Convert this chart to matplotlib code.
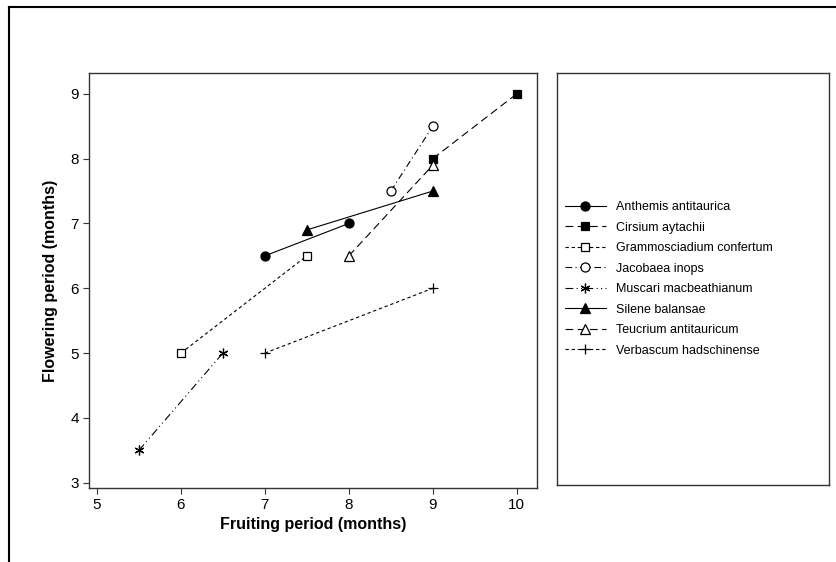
import matplotlib.pyplot as plt
from matplotlib.lines import Line2D

plt.rcParams['font.family'] = ['Liberation Sans', 'DejaVu Sans']

# Fruiting period (x) and flowering period (y), months
species = ['Anthemis antitaurica', 'Cirsium aytachii', 'Grammosciadium confertum',
           'Jacobaea inops', 'Muscari macbeathianum', 'Silene balansae',
           'Teucrium antitauricum', 'Verbascum hadschinense']
fruit_x = [[7, 8], [9, 10], [6, 7.5], [8.5, 9], [5.5, 6.5], [7.5, 9], [8, 9], [7, 9]]
flower_y = [[6.5, 7.0], [8.0, 9.0], [5.0, 6.5], [7.5, 8.5], [3.5, 5.0], [6.9, 7.5], [6.5, 7.9], [5.0, 6.0]]

markers = ['o', 's', 's', 'o', (6, 2, 0), '^', '^', '+']
msizes = [6.5, 6, 6, 6.5, 7, 7, 7, 7]
filled = [True, True, False, False, True, True, False, True]
dashes = [None, (7, 4), (3, 2.5), (6, 3, 1, 3), (7, 3, 1, 3, 1, 3), None, (7, 4), (3, 2.5)]

fig = plt.figure(figsize=(8.37, 5.62), dpi=100)
ax = fig.add_axes([0.1067, 0.1317, 0.5349, 0.7384])

for i in range(len(species)):
    line, = ax.plot(fruit_x[i], flower_y[i], color='black', lw=0.8,
                    marker=markers[i], markersize=msizes[i],
                    markerfacecolor='black' if filled[i] else 'white',
                    markeredgecolor='black', markeredgewidth=0.9, label=species[i])
    if dashes[i] is not None:
        line.set_dashes(dashes[i])

ax.set_xlim(4.91, 10.24)
ax.set_ylim(2.92, 9.32)
ax.set_xticks([5, 6, 7, 8, 9, 10])
ax.set_yticks([3, 4, 5, 6, 7, 8, 9])
ax.tick_params(direction='out', length=4, width=0.8, labelsize=11, color='#333333')
for s in ax.spines.values():
    s.set_color('#333333')
    s.set_linewidth(1.0)
ax.set_xlabel('Fruiting period (months)', fontsize=11.5, fontweight='bold', labelpad=3)
ax.set_ylabel('Flowering period (months)', fontsize=11.5, fontweight='bold', labelpad=9)

# legend box
lax = fig.add_axes([0.6655, 0.137, 0.3249, 0.733])
lax.set_xticks([])
lax.set_yticks([])
for s in lax.spines.values():
    s.set_color('#333333')
    s.set_linewidth(1.0)
handles, labels = ax.get_legend_handles_labels()
lax.legend(handles, labels, loc='center left', frameon=False, fontsize=9,
           handlelength=3.3, handletextpad=0.8, labelspacing=0.68,
           borderaxespad=0.2, bbox_to_anchor=(0.0, 0.5))

# outer frame
fig.add_artist(Line2D([9 / 837, 9 / 837], [0, 1 - 7 / 562], transform=fig.transFigure,
                      color='black', lw=1.5))
fig.add_artist(Line2D([9 / 837, 1], [1 - 7 / 562, 1 - 7 / 562], transform=fig.transFigure,
                      color='black', lw=1.5))

fig.savefig('out.png', dpi=100)
